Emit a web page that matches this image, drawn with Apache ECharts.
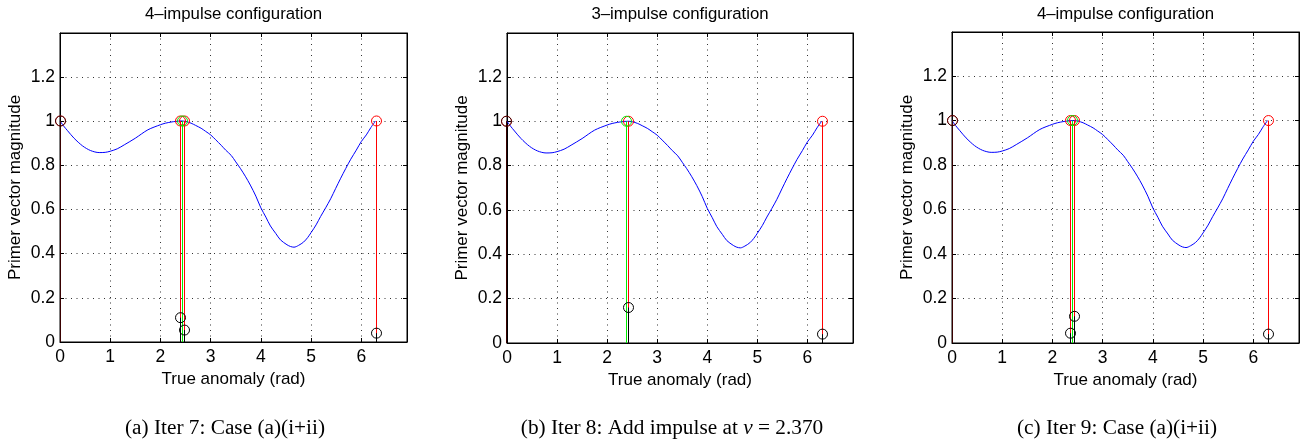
<!DOCTYPE html>
<html>
<head>
<meta charset="utf-8">
<script src="https://cdn.jsdelivr.net/npm/echarts@6/dist/echarts.min.js"></script>
<style>html,body{margin:0;padding:0;background:#fff}#c{width:1309px;height:446px}</style>
</head>
<body>
<div id="c"></div>
<script>
// ---- data ----
const nuCurve = [0, 0.07, 0.15, 0.28, 0.45, 0.61, 0.78, 0.9, 1.0, 1.14, 1.28, 1.5, 1.75, 2.0, 2.1, 2.21, 2.3, 2.41, 2.5, 2.61, 2.7, 2.81, 2.9, 3.0, 3.1, 3.21, 3.3, 3.41, 3.5, 3.59, 3.69, 3.79, 3.9, 4.0, 4.1, 4.19, 4.3, 4.39, 4.52, 4.59, 4.66, 4.75, 4.85, 4.93, 5.0, 5.1, 5.19, 5.29, 5.39, 5.49, 5.59, 5.69, 5.79, 5.9, 6.0, 6.1, 6.19, 6.283];
const pvCurve = [1.0, 0.978, 0.956, 0.922, 0.887, 0.866, 0.857, 0.858, 0.863, 0.874, 0.892, 0.922, 0.96, 0.983, 0.99, 0.995, 0.998, 1.0, 0.998, 0.99, 0.98, 0.967, 0.953, 0.937, 0.915, 0.89, 0.868, 0.844, 0.815, 0.786, 0.75, 0.71, 0.66, 0.607, 0.565, 0.525, 0.49, 0.462, 0.44, 0.432, 0.429, 0.437, 0.452, 0.472, 0.495, 0.53, 0.568, 0.607, 0.648, 0.695, 0.741, 0.785, 0.827, 0.868, 0.907, 0.937, 0.97, 1.0];

const panelTitles = ['4\u2013impulse configuration', '3\u2013impulse configuration', '4\u2013impulse configuration'];
const captions = ['(a) Iter 7: Case (a)(i+ii)', '(b) Iter 8: Add impulse at {it|\u03bd} = 2.370', '(c) Iter 9: Case (a)(i+ii)'];
const xTicks = [0, 1, 2, 3, 4, 5, 6];
const yTicks = [0, 0.2, 0.4, 0.6, 0.8, 1, 1.2];
const xName = 'True anomaly (rad)';
const yName = 'Primer vector magnitude';

// panel (a)
const redA_x = [0, 2.38, 2.48, 6.283];
const redA_y = [1, 1, 1, 1];
const greenA_x = [2.43];
const greenA_y = [1];
const blackA_x = [0, 2.38, 2.48, 6.283];
const blackA_y = [1, 0.11, 0.054, 0.04];
// panel (b)
const redB_x = [0, 2.433, 6.283];
const redB_y = [1, 1, 1];
const greenB_x = [2.37];
const greenB_y = [1];
const blackB_x = [0, 2.433, 6.283];
const blackB_y = [1, 0.16, 0.04];
// panel (c)
const redC_x = [0, 2.374, 2.434, 6.283];
const redC_y = [1, 1, 1, 1];
const greenC_x = [2.405];
const greenC_y = [1];
const blackC_x = [0, 2.374, 2.434, 6.283];
const blackC_y = [1, 0.044, 0.12, 0.04];

// ---- layout ----
const grids = [
  {left: 60, top: 33, width: 347, height: 309},
  {left: 507, top: 33, width: 346, height: 310},
  {left: 952, top: 32, width: 347, height: 311}
];
const captionX = [225, 672, 1117];
const SANS = '"Liberation Sans", Arial, Helvetica, sans-serif';
const SERIF = '"Liberation Serif", "Times New Roman", serif';

const zip = (xs, ys) => xs.map((x, i) => [x, ys[i]]);
const panels = [
  {red: zip(redA_x, redA_y), green: zip(greenA_x, greenA_y), black: zip(blackA_x, blackA_y)},
  {red: zip(redB_x, redB_y), green: zip(greenB_x, greenB_y), black: zip(blackB_x, blackB_y)},
  {red: zip(redC_x, redC_y), green: zip(greenC_x, greenC_y), black: zip(blackC_x, blackC_y)}
];

// put a 1px stem on an even pixel column (keeps thin coloured lines crisp and coloured)
function snap(v) { return 2 * Math.round((v - 0.5) / 2) + 0.5; }

function stemRender(color, under) {
  return function (params, api) {
    const x = api.value(0), y = api.value(1);
    const p0 = api.coord([x, 0]);
    const p1 = api.coord([x, y]);
    // where a black mark sits exactly on a red one, let the red show through (dark maroon)
    const overlap = under && under.some(d => d[0] === x && d[1] === y);
    const op = overlap ? 0.78 : 1;
    const sx = snap(p0[0]);
    return {
      type: 'group',
      children: [
        {type: 'line', shape: {x1: sx, y1: p0[1], x2: sx, y2: p1[1]},
         style: {stroke: color, lineWidth: 1, opacity: op}},
        {type: 'circle', shape: {cx: sx, cy: p1[1], r: 5},
         style: {stroke: color, fill: null, lineWidth: 1, opacity: op}}
      ]
    };
  };
}

const dotted = {show: true, lineStyle: {color: '#333', width: 1, type: [1, 4.5]}};
const xAxes = [], yAxes = [], series = [], graphics = [];
const curveData = zip(nuCurve, pvCurve);

grids.forEach((g, i) => {
  xAxes.push({
    gridIndex: i, type: 'value', min: 0, max: 6.91, interval: 1,
    axisLine: {show: true, onZero: false, lineStyle: {color: '#000', width: 1}},
    axisTick: {show: true, inside: true, length: 4, lineStyle: {color: '#000'}},
    axisLabel: {color: '#000', fontFamily: SANS, fontSize: 17.5, margin: 6, showMaxLabel: false,
      formatter: v => xTicks.includes(Math.round(v * 1000) / 1000) ? String(v) : ''},
    splitLine: dotted,
    name: xName, nameLocation: 'middle', nameGap: 27,
    nameTextStyle: {color: '#000', fontFamily: SANS, fontSize: 17}
  });
  xAxes.push({
    gridIndex: i, type: 'value', min: 0, max: 6.91, interval: 1, position: 'top',
    axisLine: {show: true, onZero: false, lineStyle: {color: '#000', width: 1}},
    axisTick: {show: true, inside: true, length: 4, lineStyle: {color: '#000'}},
    axisLabel: {show: false}, splitLine: {show: false}
  });
  yAxes.push({
    gridIndex: i, type: 'value', min: 0, max: 1.398, interval: 0.2,
    axisLine: {show: true, onZero: false, lineStyle: {color: '#000', width: 1}},
    axisTick: {show: true, inside: true, length: 4, lineStyle: {color: '#000'}},
    axisLabel: {color: '#000', fontFamily: SANS, fontSize: 17.5, margin: 5, showMaxLabel: false,
      formatter: v => yTicks.some(t => Math.abs(t - v) < 1e-6) ? String(Math.round(v * 10) / 10) : ''},
    splitLine: dotted,
    name: yName, nameLocation: 'middle', nameGap: 36,
    nameTextStyle: {color: '#000', fontFamily: SANS, fontSize: 17}
  });
  yAxes.push({
    gridIndex: i, type: 'value', min: 0, max: 1.398, interval: 0.2, position: 'right',
    axisLine: {show: true, onZero: false, lineStyle: {color: '#000', width: 1}},
    axisTick: {show: true, inside: true, length: 4, lineStyle: {color: '#000'}},
    axisLabel: {show: false}, splitLine: {show: false}
  });
  const xi = 2 * i, yi = 2 * i;
  series.push({
    type: 'line', xAxisIndex: xi, yAxisIndex: yi, data: curveData, smooth: 0.3,
    showSymbol: false, lineStyle: {color: '#0000ff', width: 1}, z: 2, silent: true
  });
  series.push({type: 'custom', xAxisIndex: xi, yAxisIndex: yi, data: panels[i].red,
    renderItem: stemRender('#ff0000', null), z: 3, silent: true});
  series.push({type: 'custom', xAxisIndex: xi, yAxisIndex: yi, data: panels[i].green,
    renderItem: stemRender('#00ee00', null), z: 4, silent: true});
  series.push({type: 'custom', xAxisIndex: xi, yAxisIndex: yi, data: panels[i].black,
    renderItem: stemRender('#000000', panels[i].red), z: 5, silent: true});

  graphics.push({
    type: 'text', x: g.left + g.width / 2, y: 14,
    style: {text: panelTitles[i], fill: '#000', font: '16.8px ' + SANS, textAlign: 'center', textVerticalAlign: 'middle'}
  });
  graphics.push({
    type: 'text', x: captionX[i], y: 428,
    style: {text: captions[i], fill: '#000', fontFamily: SERIF, fontSize: 21.3, textAlign: 'center', textVerticalAlign: 'middle',
      rich: {it: {fontFamily: SERIF, fontSize: 21.3, fontStyle: 'italic', fill: '#000'}}}
  });
});

const chart = echarts.init(document.getElementById('c'), null, {renderer: 'canvas'});
chart.setOption({
  animation: false,
  backgroundColor: '#fff',
  grid: grids.map(g => Object.assign({show: true, borderColor: '#000', borderWidth: 1, backgroundColor: '#fff', outerBoundsMode: 'none'}, g)),
  xAxis: xAxes,
  yAxis: yAxes,
  series: series,
  graphic: graphics
});
</script>
</body>
</html>
